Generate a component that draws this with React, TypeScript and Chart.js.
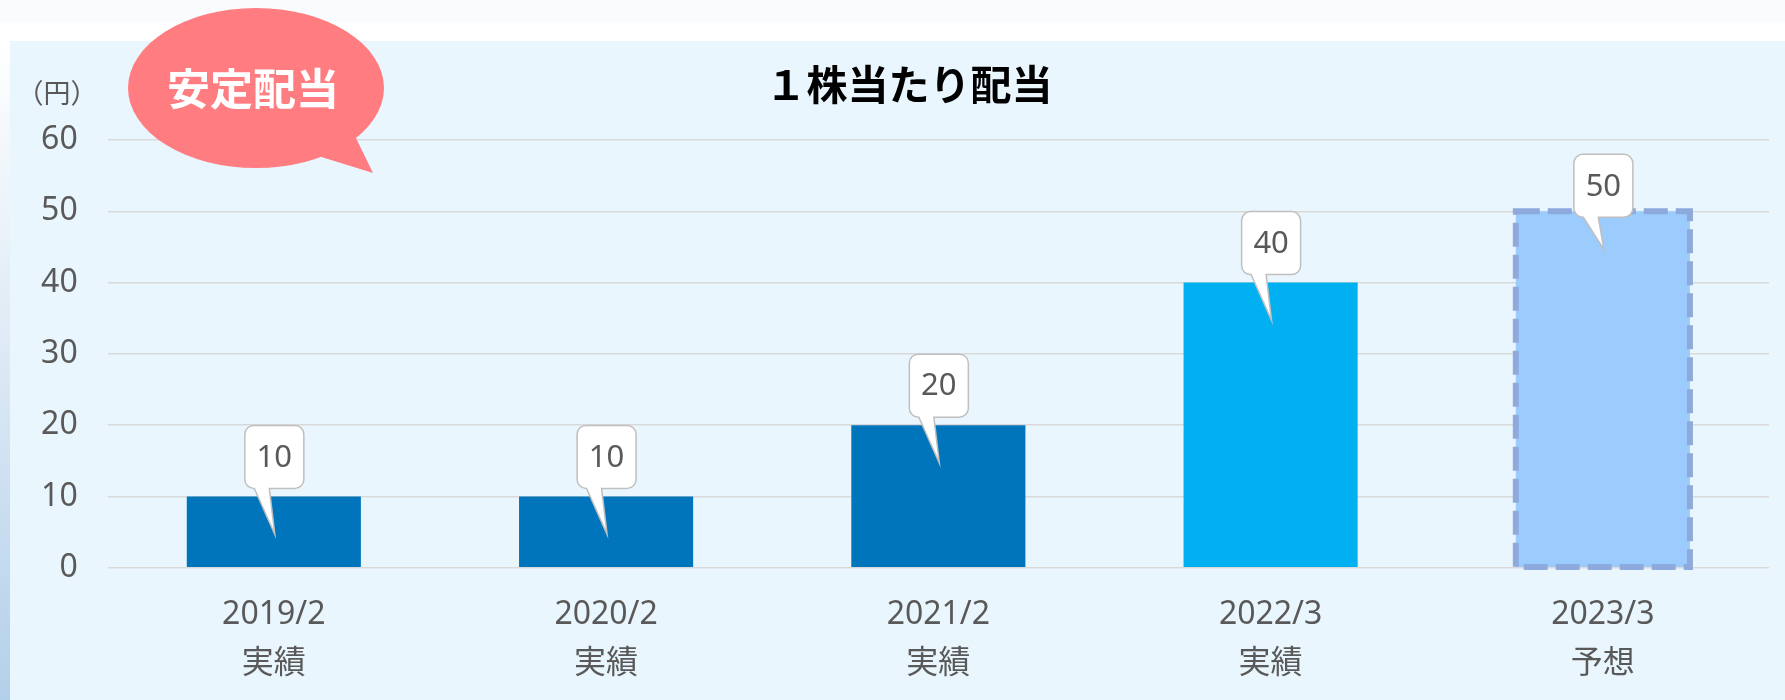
import React, { useEffect, useRef } from "react";
import { Chart, registerables } from "chart.js";

Chart.register(...registerables);

const categories = ["2019/2", "2020/2", "2021/2", "2022/3", "2023/3"];
const periodLabels = ["実績", "実績", "実績", "実績", "予想"];
const dividends = [10, 10, 20, 40, 50];
const barColors = ["#0075bb", "#0075bb", "#0075bb", "#00b0f0", "#9ccbfd"];
const yMin = 0;
const yMax = 60;
const yStep = 10;
const titleText = "１株当たり配当";
const unitText = "（円）";
const badgeText = "安定配当";

const FONT = "'Noto Sans', 'Noto Sans CJK JP', sans-serif";
const CJK = "'Noto Sans CJK JP', sans-serif";

const overlayPlugin = {
  id: "overlay",
  afterDatasetsDraw(chart: any) {
    const ctx = chart.ctx;
    const meta = chart.getDatasetMeta(0);
    const n = meta.data.length;
    const last = meta.data[n - 1];
    if (last) {
      const p = last.getProps(["x", "y", "base", "width"], true);
      ctx.save();
      ctx.strokeStyle = "#8eaadc";
      ctx.lineWidth = 6;
      ctx.setLineDash([24, 8]);
      ctx.strokeRect(p.x - p.width / 2, p.y, p.width, p.base - p.y);
      ctx.restore();
    }
    meta.data.forEach((bar: any, i: number) => {
      const p = bar.getProps(["x", "y"], true);
      const tipX = p.x + 1;
      const tipY = p.y + 38;
      const tail = i === n - 1 ? 32 : 46;
      const bw = 59, bh = 63, r = 9;
      const cx = p.x + 0.5;
      const bottom = tipY - tail;
      const top = bottom - bh;
      const left = cx - bw / 2;
      const right = cx + bw / 2;
      ctx.save();
      ctx.beginPath();
      ctx.moveTo(left + r, top);
      ctx.lineTo(right - r, top);
      ctx.arcTo(right, top, right, top + r, r);
      ctx.lineTo(right, bottom - r);
      ctx.arcTo(right, bottom, right - r, bottom, r);
      ctx.lineTo(cx - 5, bottom);
      ctx.lineTo(tipX, tipY);
      ctx.lineTo(cx - 20, bottom);
      ctx.lineTo(left + r, bottom);
      ctx.arcTo(left, bottom, left, bottom - r, r);
      ctx.lineTo(left, top + r);
      ctx.arcTo(left, top, left + r, top, r);
      ctx.closePath();
      ctx.fillStyle = "#ffffff";
      ctx.fill();
      ctx.strokeStyle = "#bfbfbf";
      ctx.lineWidth = 1.5;
      ctx.stroke();
      ctx.fillStyle = "#595959";
      ctx.font = `31px ${FONT}`;
      ctx.textAlign = "center";
      ctx.textBaseline = "middle";
      ctx.fillText(String(dividends[i]), cx, top + bh / 2 + 1);
      ctx.restore();
    });
  },
  afterDraw(chart: any) {
    const ctx = chart.ctx;
    ctx.save();
    ctx.fillStyle = "#000000";
    ctx.font = `bold 41px ${CJK}`;
    ctx.textAlign = "center";
    ctx.textBaseline = "middle";
    ctx.fillText(titleText, 909, 84);
    ctx.fillStyle = "#595959";
    ctx.font = `27px ${CJK}`;
    ctx.fillText(unitText, 57, 93);
    ctx.fillStyle = "#ff7c80";
    ctx.beginPath();
    ctx.ellipse(256, 88, 128, 80, 0, 0, Math.PI * 2);
    ctx.fill();
    ctx.beginPath();
    ctx.moveTo(352, 130);
    ctx.lineTo(373, 173);
    ctx.lineTo(315, 155);
    ctx.closePath();
    ctx.fill();
    ctx.fillStyle = "#ffffff";
    ctx.font = `bold 43px ${CJK}`;
    ctx.fillText(badgeText, 253, 89);
    ctx.restore();
  },
};

export default function App() {
  const canvasRef = useRef<HTMLCanvasElement | null>(null);

  useEffect(() => {
    document.body.style.margin = "0";
    const canvas = canvasRef.current;
    if (!canvas) return;
    const chart = new Chart(canvas, {
      type: "bar",
      data: {
        labels: categories.map((c, i) => [c, periodLabels[i]]),
        datasets: [
          {
            data: dividends,
            backgroundColor: barColors,
            borderWidth: 0,
            categoryPercentage: 1,
            barPercentage: 0.524,
          },
        ],
      },
      options: {
        animation: false,
        responsive: false,
        maintainAspectRatio: false,
        layout: { padding: { left: 0, right: 16, top: 140, bottom: 0 } },
        plugins: {
          legend: { display: false },
          tooltip: { enabled: false },
          title: { display: false },
        },
        scales: {
          x: {
            grid: { display: false, drawTicks: false },
            border: { display: false },
            ticks: {
              color: "#595959",
              font: { family: FONT, size: 32, lineHeight: "49px" },
              padding: 23,
              maxRotation: 0,
              autoSkip: false,
            },
            afterFit: (scale: any) => {
              scale.height = 132.3;
            },
          },
          y: {
            min: yMin,
            max: yMax,
            grid: { color: "#d9d9d9", lineWidth: 1.5, drawTicks: false },
            border: { display: false },
            ticks: {
              stepSize: yStep,
              color: "#595959",
              font: { family: FONT, size: 32 },
              padding: 30,
            },
            afterFit: (scale: any) => {
              scale.width = 107.7;
            },
          },
        },
      },
      plugins: [overlayPlugin],
    });
    return () => chart.destroy();
  }, []);

  return (
    <div style={{ position: "relative", width: 1785, height: 700, overflow: "hidden", background: "#ffffff" }}>
      <div style={{ position: "absolute", left: 0, top: 0, width: 1785, height: 22, background: "#fafbfd" }} />
      <div
        style={{
          position: "absolute",
          left: 0,
          top: 41,
          width: 10,
          height: 659,
          background: "linear-gradient(to bottom, #ffffff 0%, #f4f8fc 15%, #dbe8f5 50%, #b3d0ea 100%)",
        }}
      />
      <div style={{ position: "absolute", left: 10, top: 41, width: 1775, height: 659, background: "#eaf6fe" }} />
      <canvas
        ref={canvasRef}
        width={1785}
        height={700}
        style={{ position: "absolute", left: 0, top: 0, width: 1785, height: 700 }}
      />
    </div>
  );
}
